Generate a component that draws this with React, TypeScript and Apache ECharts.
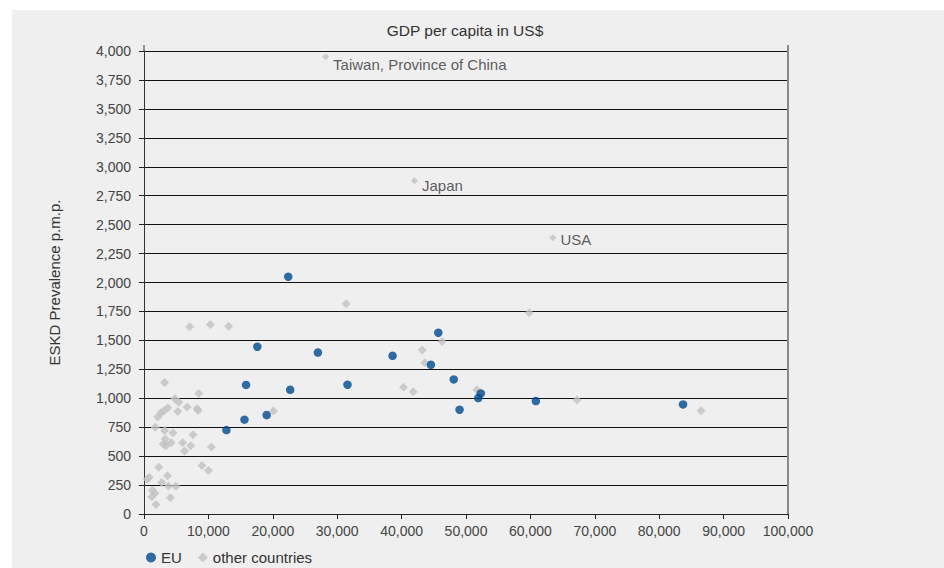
import React, { useEffect, useRef } from "react";
import * as echarts from "echarts";

// GDP per capita (US$) and ESKD prevalence (per million population)
const euGdp = [12800, 15600, 15850, 17600, 19050, 22400, 22700, 27000, 31600, 38600, 44550, 45700, 48100, 49000, 51900, 52300, 60850, 83700];
const euEskd = [725, 815, 1115, 1445, 855, 2050, 1073, 1395, 1117, 1367, 1289, 1566, 1163, 901, 1002, 1042, 976, 947];

const otherGdp = [
  3200, 8500, 4800, 5400, 6700, 8250, 8400, 5250, 3700, 3100, 2650, 2150, 1750, 3200, 4500, 7600,
  3300, 3000, 4200, 3400, 6000, 7250, 6300, 10450, 9000, 10000, 2300, 500, 800, 3650, 2750, 3800,
  4950, 1300, 1700, 1200, 4100, 1850,
  7100, 10300, 13150, 20100, 31400, 46300, 43200, 43600, 40300, 41800, 51700, 59800, 67250, 86500,
];
const otherEskd = [
  1135, 1040, 995, 965, 925, 910, 895, 885, 918, 892, 875, 838, 750, 722, 702, 685,
  648, 605, 615, 590, 616, 590, 545, 578, 420, 375, 403, 300, 318, 330, 272, 242,
  240, 205, 180, 150, 140, 82,
  1617, 1638, 1621, 889, 1816, 1491, 1416, 1307, 1094, 1056, 1073, 1738, 984, 892,
];

// Countries named on the chart
const namedCountries = ["Taiwan, Province of China", "Japan", "USA"];
const namedGdp = [28200, 42000, 63500];
const namedEskd = [3950, 2878, 2386];
const namedLabelOffsets = [[0, 8], [0, 5], [0, 2]];

const xTicks = { min: 0, max: 100000, interval: 10000 };
const yTicks = { min: 0, max: 4000, interval: 250 };

const FONT = "'Liberation Sans', Arial, sans-serif";
const EU_BLUE = "#00488f";
const OTHER_GREY = "#c2c2c2";
const TEXT = "#333";

const fmt = (v: number) => v.toLocaleString("en-US");

export default function App() {
  const ref = useRef<HTMLDivElement>(null);

  useEffect(() => {
    if (!ref.current) return;
    const chart = echarts.init(ref.current, undefined, { renderer: "svg" });

    const euData = euGdp.map((g, i) => [g, euEskd[i]]);
    const otherData: any[] = otherGdp.map((g, i) => [g, otherEskd[i]]);
    namedCountries.forEach((name, i) => {
      otherData.push({
        name,
        value: [namedGdp[i], namedEskd[i]],
        symbolSize: 7,
        label: {
          show: true,
          formatter: name,
          position: "right",
          distance: 4,
          offset: namedLabelOffsets[i],
          color: TEXT,
          fontSize: 15,
          fontFamily: FONT,
        },
      });
    });

    chart.setOption({
      animation: false,
      backgroundColor: "transparent",
      textStyle: { fontFamily: FONT },
      grid: { left: 132, right: 156, top: 41, bottom: 54 },
      graphic: [
        {
          type: "text",
          x: 453,
          y: 20,
          style: {
            text: "GDP per capita in US$",
            align: "center",
            verticalAlign: "middle",
            fontSize: 15.5,
            fontFamily: FONT,
            fill: TEXT,
          },
        },
        // short axis stubs rising above the top gridline
        { type: "line", shape: { x1: 132, y1: 35, x2: 132, y2: 41 }, style: { stroke: "#333", lineWidth: 1 } },
        { type: "line", shape: { x1: 776, y1: 35, x2: 776, y2: 41 }, style: { stroke: "#8a8a8a", lineWidth: 2 } },
      ],
      legend: {
        left: 134,
        top: 540,
        padding: 0,
        itemWidth: 10,
        itemHeight: 10,
        itemGap: 16,
        textStyle: { fontSize: 15, color: TEXT, fontFamily: FONT },
        data: [
          { name: "EU", icon: "circle" },
          { name: "other countries", icon: "diamond" },
        ],
      },
      xAxis: {
        type: "value",
        ...xTicks,
        axisLine: { show: true, lineStyle: { color: "#222", width: 1 } },
        axisTick: { show: true, inside: false, length: 5, lineStyle: { color: "#222" } },
        splitLine: { show: false },
        axisLabel: { margin: 10, fontSize: 14, color: "#444", fontFamily: FONT, formatter: fmt },
      },
      yAxis: [
        {
          type: "value",
          ...yTicks,
          name: "ESKD Prevalence p.m.p.",
          nameLocation: "middle",
          nameRotate: 90,
          nameGap: 82,
          nameTextStyle: { fontSize: 15, color: TEXT, fontFamily: FONT },
          axisLine: { show: true, lineStyle: { color: "#333", width: 1 } },
          axisTick: { show: true, inside: false, length: 5, lineStyle: { color: "#222" } },
          splitLine: { show: true, lineStyle: { color: "#111", width: 1.2 } },
          axisLabel: { margin: 13, fontSize: 14, color: "#444", fontFamily: FONT, formatter: fmt },
        },
        {
          type: "value",
          ...yTicks,
          position: "right",
          axisLine: { show: true, lineStyle: { color: "#8a8a8a", width: 2 } },
          axisTick: { show: false },
          axisLabel: { show: false },
          splitLine: { show: false },
        },
      ],
      series: [
        {
          name: "EU",
          type: "scatter",
          symbol: "circle",
          symbolSize: 8.5,
          itemStyle: { color: EU_BLUE },
          data: euData,
          z: 3,
        },
        {
          name: "other countries",
          type: "scatter",
          symbol: "diamond",
          symbolSize: 9,
          itemStyle: { color: OTHER_GREY },
          data: otherData,
          z: 2,
        },
      ],
    });

    return () => chart.dispose();
  }, []);

  return (
    <div style={{ position: "fixed", left: 0, top: 0, width: 944, height: 568, background: "#fff" }}>
      <div
        ref={ref}
        style={{ position: "absolute", left: 12, top: 10, width: 932, height: 558, background: "#efefef" }}
      />
    </div>
  );
}
